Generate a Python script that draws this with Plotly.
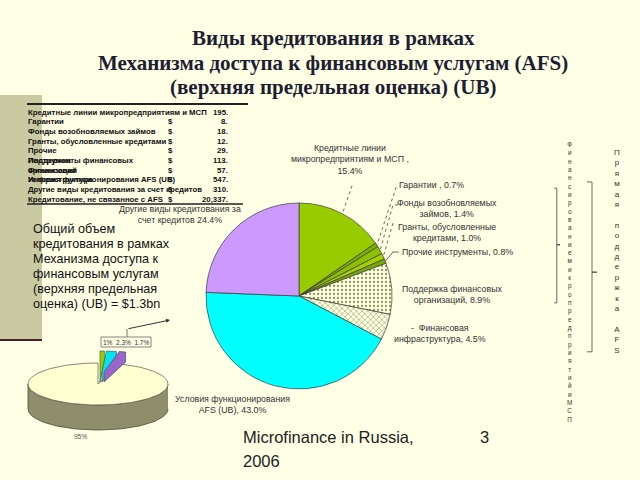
import numpy as np
import plotly.graph_objects as go

W, H = 640, 480
BG = "#FFFFE6"

def px(x):
    return x / W

def py(y):
    return 1 - y / H

# ---------------- data ----------------
title_lines = ["Виды кредитования в рамках",
               "Механизма доступа к финансовым услугам (AFS)",
               "(верхняя предельная оценка) (UB)"]

pie_names = ["Кредитные линии<br>микропредприятиям и МСП", "Гарантии",
             "Фонды возобновляемых<br>займов", "Гранты, обусловленные<br>кредитами",
             "Прочие инструменты", "Поддержка финансовых<br>организаций",
             "-  Финансовая<br>инфраструктура", "Условия функционирования<br>AFS (UB)",
             "Другие виды кредитования за<br>счет кредитов"]
pie_seps = [" ,<br>", " , ", ", ", ", ", ", ", ", ", ", ", ", ", " "]
pie_shares = [15.4, 0.7, 1.4, 1.0, 0.8, 8.9, 4.5, 43.0, 24.4]
pie_colors = ["#99CC00", "#7FB000", "#8CC000", "#A6D100", "#7AA800",
              "#DCE6B0", "#D2E296", "#00FFFF", "#CC99FF"]

table_names = ["Кредитные линии микропредприятиям и МСП", "Гарантии",
               "Фонды возобновляемых займов", "Гранты, обусловленные кредитами",
               "Прочие", "Инструменты финансовых", "организаций",
               "Условия функционирования AFS (UB)",
               "Другие виды кредитования за счет кредитов",
               "Кредитование, не связанное с AFS"]
table_overlays = ["", "", "", "", "", "Поддержка", "Финансовая", "Инфраструктура", "", ""]
table_values = [195, 8, 18, 12, 29, 113, 57, 547, 310, 20337]

left_text = ["Общий объем", "кредитования в рамках", "Механизма доступа к",
             "финансовым услугам", "(верхняя предельная", "оценка) (UB) = $1.3bn"]

small_labels = ["95%", "1%", "2.3%", "1.7%"]
small_shares = [95.0, 1.0, 2.3, 1.7]
small_colors = ["#FFFFD2", "#99CC00", "#00E5EE", "#9966CC"]

vert_text_1 = "Финансированиемикропредприятийи МСП".replace(" ", "")
vert_text_2 = ["Прямая", "", "поддержка", "", "AFS"]

footer_lines = ["Microfinance in Russia,", "2006"]
page_no = "3"

# ---------------- figure ----------------
fig = go.Figure()

# main pie geometry (pixels)
PCX, PCY, PR = 299, 296, 93
fig.add_trace(go.Pie(
    labels=[n.replace("<br>", " ") for n in pie_names],
    values=pie_shares,
    sort=False, direction="clockwise", rotation=0,
    textinfo="none", hoverinfo="label+percent",
    marker=dict(colors=pie_colors, line=dict(color="#3A3A3A", width=0.7),
                pattern=dict(shape=["", "", "", "", "", ".", "x", "", ""],
                             fgcolor="#8A9A50", size=4, solidity=0.25)),
    domain=dict(x=[px(PCX - PR), px(PCX + PR)], y=[py(PCY + PR), py(PCY - PR)]),
    showlegend=False,
))

# small 3D pie drawn on a pixel-scaled axis pair
SCX, SCY, SRX, SRY, SDEP = 98, 384, 70, 21, 25

def ell(theta_deg, dy=0.0, ox=0.0, oy=0.0):
    t = np.radians(theta_deg)
    return SCX + SRX * np.sin(t) + ox, SCY - SRY * np.cos(t) + dy + oy

# side
th = np.linspace(90, 270, 60)
xs1, ys1 = ell(th)
xs2, ys2 = ell(th[::-1], dy=SDEP)
fig.add_trace(go.Scatter(x=np.r_[xs1, xs2], y=np.r_[ys1, ys2], fill="toself",
                         fillcolor="#8E8E6C", line=dict(color="#4A4A3A", width=0.8),
                         mode="lines", xaxis="x2", yaxis="y2", hoverinfo="skip",
                         showlegend=False))
cum = np.cumsum([0] + small_shares[1:])
small_start = cum[-1] / 100 * 360
th = np.linspace(small_start, 360, 120)
xs, ys = ell(th)
fig.add_trace(go.Scatter(x=np.r_[SCX, xs, SCX], y=np.r_[SCY, ys, SCY], fill="toself",
                         fillcolor=small_colors[0], line=dict(color="#6A6A5A", width=0.8),
                         mode="lines", xaxis="x2", yaxis="y2", hoverinfo="skip",
                         showlegend=False))
for i in range(1, 4):
    a0 = cum[i - 1] / 100 * 360
    a1 = cum[i] / 100 * 360
    th = np.linspace(a0, a1, 10)
    ox, oy = 2.0 * i, -12
    xs, ys = ell(th, ox=ox, oy=oy)
    xe, ye = ell(a1, ox=ox, oy=oy)
    fig.add_trace(go.Scatter(
        x=np.r_[SCX + ox, xs, xe, SCX + ox, SCX + ox],
        y=np.r_[SCY + oy, ys, ye + 10, SCY + oy + 10, SCY + oy],
        fill="toself", fillcolor=small_colors[i], line=dict(color="#444", width=0.6),
        mode="lines", xaxis="x2", yaxis="y2", hoverinfo="skip", showlegend=False))

ann = []
shapes = []

# left band & rule
shapes.append(dict(type="rect", xref="paper", yref="paper", x0=0, x1=px(42),
                   y0=py(340), y1=py(95), fillcolor="#C9C9A2", line=dict(width=0), layer="below"))
shapes.append(dict(type="line", xref="paper", yref="paper", x0=0, x1=px(42),
                   y0=py(340), y1=py(340), line=dict(color="#4B1F2F", width=2)))

# title
for i, t in enumerate(title_lines):
    ann.append(dict(x=px(333), y=py(38 + 24.5 * i), text="<b>%s</b>" % t,
                    font=dict(family="Liberation Serif", size=21, color="#1E1E33")))

# table
shapes.append(dict(type="line", xref="paper", yref="paper", x0=px(27), x1=px(248),
                   y0=py(104), y1=py(104), line=dict(color="#222", width=2)))
shapes.append(dict(type="line", xref="paper", yref="paper", x0=px(27), x1=px(243),
                   y0=py(204), y1=py(204), line=dict(color="#222", width=1.5)))
tfont = dict(family="Liberation Sans", size=7.8, color="#111")
for i, (n, ov, v) in enumerate(zip(table_names, table_overlays, table_values)):
    yy = py(112 + 9.7 * i)
    ann.append(dict(x=px(26), y=yy, text="<b>%s</b>" % n, xanchor="left", font=tfont))
    if ov:
        ann.append(dict(x=px(26), y=yy, text="<b>%s</b>" % ov, xanchor="left", font=tfont))
    if i > 0:
        ann.append(dict(x=px(170), y=yy, text="<b>$</b>", xanchor="center", font=tfont))
    ann.append(dict(x=px(230), y=yy, text="<b>%s.</b>" % format(v, ","),
                    xanchor="right", font=tfont))

# pie labels
lab_pos = [(350, 160, "center"), (397, 185, "left"), (447, 208, "center"),
           (447, 233, "center"), (400, 252, "left"), (452, 294, "center"),
           (440, 333, "center"), (232, 404, "center"), (180, 214, "center")]
lfont = dict(family="Liberation Sans", size=8.8, color="#333")
for name, sep, v, (lx, ly, al) in zip(pie_names, pie_seps, pie_shares, lab_pos):
    ann.append(dict(x=px(lx), y=py(ly), text=name + sep + "%.1f%%" % v,
                    xanchor=al, align="center", font=lfont))

# leader lines from labels to slice mid-angles
tot = sum(pie_shares)
cum_main = np.cumsum([0] + pie_shares)
def edge(i):
    a = np.radians((cum_main[i] + pie_shares[i] / 2) / tot * 360)
    return PCX + PR * np.sin(a), PCY - PR * np.cos(a)

leaders = {0: [(352, 186)], 1: [(396, 187)], 2: [(398, 205), (393, 205)],
           3: [(393, 223)], 4: [(399, 252), (393, 252)]}
for i, pts in leaders.items():
    ex, ey = edge(i)
    allp = pts + [(ex, ey)]
    path = "M " + " L ".join("%.3f,%.3f" % (px(a), py(b)) for a, b in allp)
    dash = "solid" if i == 4 else "dot"
    shapes.append(dict(type="path", xref="paper", yref="paper", path=path,
                       line=dict(color="#444", width=0.8, dash=dash)))

# left paragraph
for i, t in enumerate(left_text):
    ann.append(dict(x=px(31), y=py(229 + 15 * i), text=t, xanchor="left",
                    font=dict(family="Liberation Sans", size=12.6, color="#111")))

# small pie labels
ann.append(dict(x=px(126), y=py(342), text="&nbsp;&nbsp;".join(small_labels[1:]),
                font=dict(family="Liberation Sans", size=6.5, color="#333")))
shapes.append(dict(type="rect", xref="paper", yref="paper", x0=px(101), x1=px(151),
                   y0=py(347), y1=py(337), line=dict(color="#555", width=0.7)))
shapes.append(dict(type="line", xref="paper", yref="paper", x0=px(127), x1=px(127),
                   y0=py(337), y1=py(329), line=dict(color="#555", width=0.8)))
ann.append(dict(x=px(170), y=py(320), ax=-43, ay=9, text="", showarrow=True,
                arrowhead=2, arrowsize=0.8, arrowwidth=1, arrowcolor="#333"))
ann.append(dict(x=px(80), y=py(436), text=small_labels[0],
                font=dict(family="Liberation Sans", size=6.5, color="#555")))

# vertical stacked texts and brackets
ann.append(dict(x=px(569), y=py(281.5), text="<br>".join(list(vert_text_1)),
                font=dict(family="Liberation Sans", size=6.4, color="#333")))
v2 = []
for w in vert_text_2:
    v2.extend(list(w) if w else [""])
ann.append(dict(x=px(617), y=py(251), text="<br>".join(v2),
                font=dict(family="Liberation Sans", size=8, color="#333")))

def bracket(x, y0, y1, ym, hook, tick):
    p = [(x - hook, y0), (x, y0), (x, ym), (x + tick, ym), (x, ym), (x, y1), (x - hook, y1)]
    return "M " + " L ".join("%.3f,%.3f" % (px(a), py(b)) for a, b in p)

shapes.append(dict(type="path", xref="paper", yref="paper",
                   path=bracket(557, 188, 303, 245, 3, 3), line=dict(color="#444", width=0.8)))
shapes.append(dict(type="path", xref="paper", yref="paper",
                   path=bracket(592, 182, 352, 272, 5, 5), line=dict(color="#444", width=0.8)))

# footer
ffont = dict(family="Liberation Sans", size=16.5, color="#222")
ann.append(dict(x=px(241), y=py(437), text=footer_lines[0], xanchor="left", font=ffont))
ann.append(dict(x=px(241), y=py(461), text=footer_lines[1], xanchor="left", font=ffont))
ann.append(dict(x=px(484), y=py(437), text=page_no, xanchor="center", font=ffont))

for a in ann:
    a.setdefault("xref", "paper")
    a.setdefault("yref", "paper")
    a.setdefault("showarrow", False)
    a.setdefault("yanchor", "middle")
    a.setdefault("xanchor", "center")

fig.update_layout(
    width=W, height=H, margin=dict(l=0, r=0, t=0, b=0),
    paper_bgcolor=BG, plot_bgcolor="rgba(0,0,0,0)",
    annotations=ann, shapes=shapes,
    xaxis=dict(visible=False), yaxis=dict(visible=False),
    xaxis2=dict(domain=[px(0), px(200)], range=[0, 200], visible=False, fixedrange=True),
    yaxis2=dict(domain=[py(450), py(320)], range=[450, 320], visible=False, fixedrange=True),
    showlegend=False,
)

fig.write_html("out.html")
